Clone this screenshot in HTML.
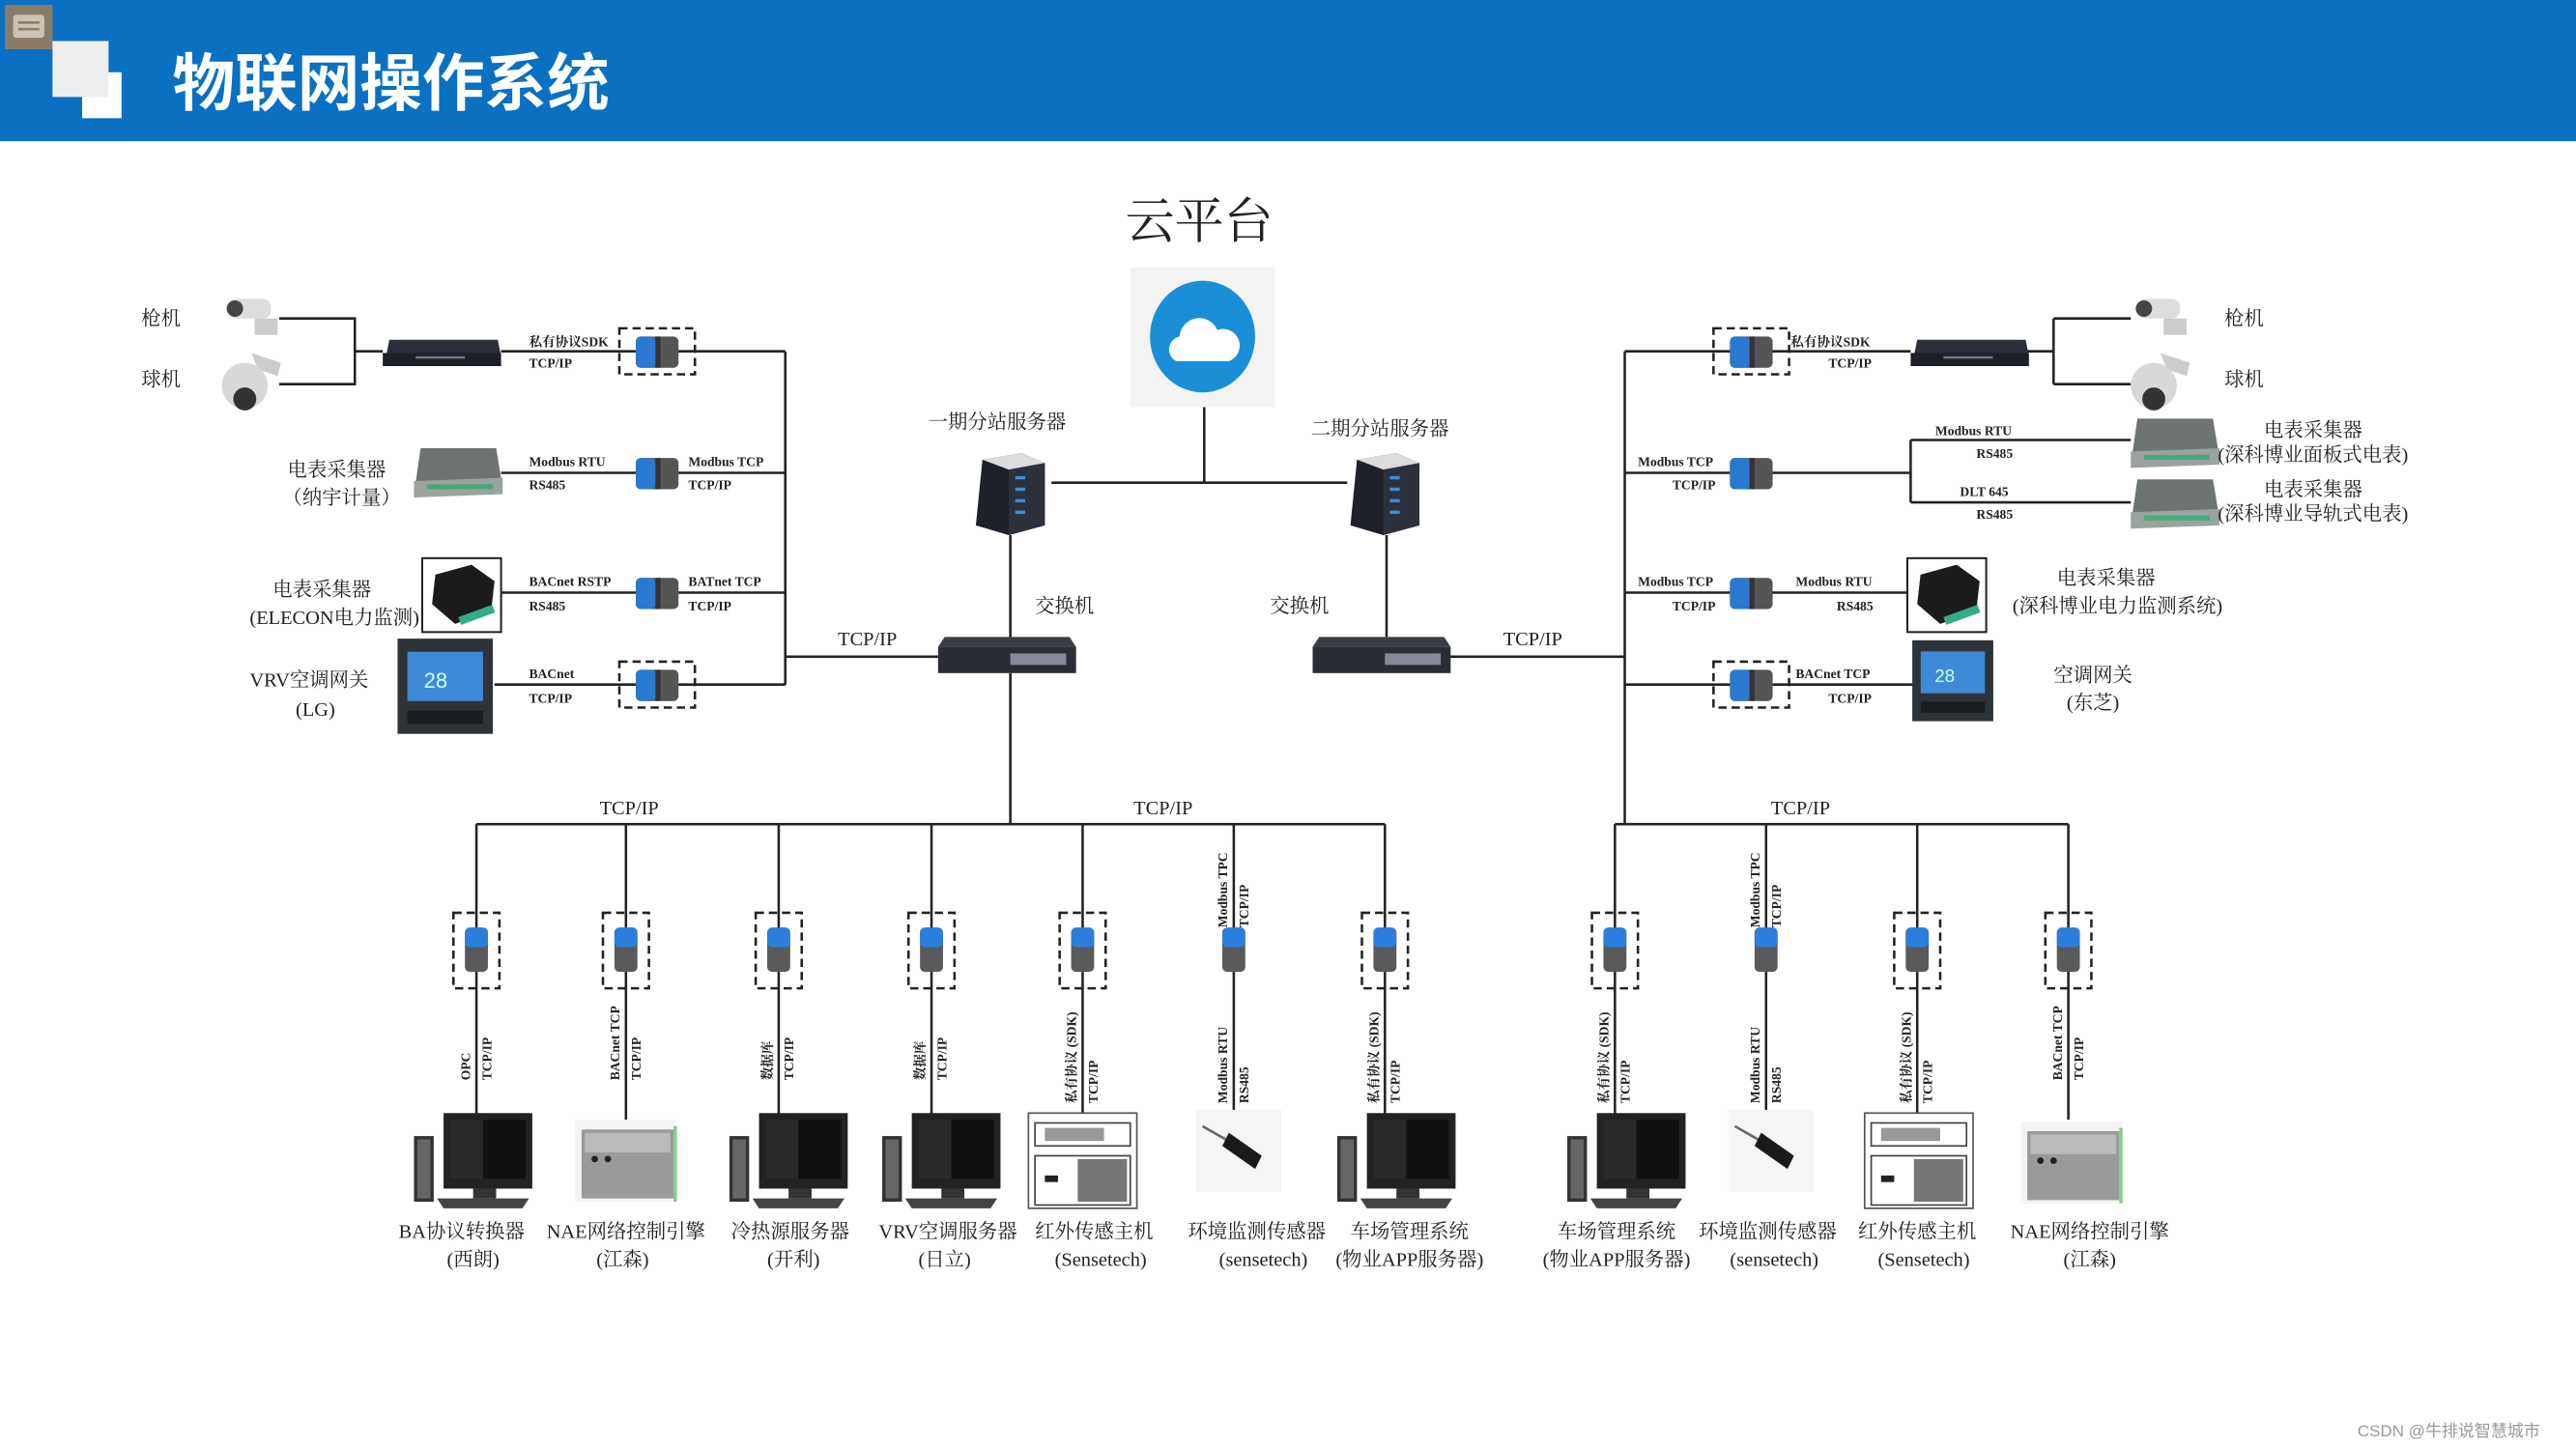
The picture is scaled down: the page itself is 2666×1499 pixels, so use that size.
<!DOCTYPE html>
<html><head><meta charset="utf-8">
<style>
html,body{margin:0;padding:0;background:#fff;}
svg{display:block;}
text{font-family:"Liberation Serif","Noto Serif CJK SC","Noto Sans CJK SC",serif;fill:#222;}
.s{font-size:8px;font-weight:bold;}
.m{font-size:12px;}
.b{font-size:12px;}
</style></head>
<body>
<svg width="2666" height="1499" viewBox="0 0 1568 882" preserveAspectRatio="none" xmlns="http://www.w3.org/2000/svg">
<defs>
 <g id="gw"><rect x="0" y="0" width="26" height="19" rx="3" fill="#555"/><rect x="0" y="0" width="12" height="19" rx="3" fill="#2a78d0"/><rect x="12" y="0" width="3" height="19" fill="#333"/></g>
 <g id="gwv"><rect x="0" y="0" width="14" height="27" rx="3" fill="#5a5a5a"/><rect x="0" y="0" width="14" height="12" rx="3" fill="#2a7fdc"/></g>
 <g id="pc"><rect x="0" y="14" width="12" height="40" fill="#333"/><rect x="2" y="16" width="8" height="36" fill="#666"/><rect x="18" y="0" width="54" height="46" fill="#222"/><rect x="22" y="4" width="46" height="36" fill="#111"/><rect x="22" y="4" width="20" height="36" fill="#3a3a3a" opacity=".6"/><rect x="36" y="46" width="14" height="6" fill="#333"/><path d="M14 52 L70 52 L66 58 L18 58 Z" fill="#444"/></g>
 <g id="nae"><rect x="0" y="0" width="62" height="50" fill="#f4f4f4"/><rect x="4" y="6" width="56" height="42" fill="#9a9a9a"/><rect x="6" y="8" width="52" height="12" fill="#bbb"/><circle cx="12" cy="24" r="2" fill="#222"/><circle cx="20" cy="24" r="2" fill="#222"/><rect x="60" y="4" width="2" height="46" fill="#8c8"/></g>
 <g id="ir"><rect x="0" y="0" width="66" height="58" fill="#fff" stroke="#555"/><rect x="4" y="6" width="58" height="14" fill="#fff" stroke="#444"/><rect x="10" y="9" width="36" height="8" fill="#999"/><rect x="4" y="26" width="58" height="30" fill="#fff" stroke="#444"/><rect x="30" y="28" width="30" height="26" fill="#777"/><rect x="10" y="38" width="8" height="4" fill="#222"/></g>
 <g id="sensor"><rect x="0" y="0" width="52" height="50" fill="#f5f5f5"/><path d="M20 14 L40 28 L36 36 L16 22 Z" fill="#1a1a1a"/><path d="M4 10 L18 18" stroke="#666" stroke-width="1.5"/></g>
 <g id="dvr"><path d="M4 0 L70 0 L72 10 L2 10 Z" fill="#2b2f3a"/><rect x="0" y="8" width="72" height="8" fill="#1c1f28"/><rect x="20" y="10" width="30" height="1.5" fill="#778"/></g>
 <g id="meter"><path d="M4 0 L50 0 L54 24 L0 28 Z" fill="#6e7470"/><path d="M0 20 L54 18 L54 28 L0 30 Z" fill="#9aa39e"/><rect x="8" y="22" width="40" height="3" fill="#4a7"/></g>
 <g id="blk"><rect x="0" y="0" width="48" height="45" fill="#fff" stroke="#222" stroke-width="1.2"/><path d="M8 10 L30 4 L44 14 L42 32 L20 40 L6 28 Z" fill="#1b1b1b"/><rect x="22" y="32" width="22" height="5" fill="#3a8" transform="rotate(-20 33 34)"/></g>
 <g id="therm"><rect x="0" y="0" width="58" height="58" fill="#2e3338"/><rect x="6" y="8" width="46" height="30" fill="#3e8ad6"/><text x="16" y="30" style="font-size:13px;fill:#cfe;font-family:'Liberation Sans',sans-serif">28</text><rect x="6" y="44" width="46" height="8" fill="#1a1d20"/></g>
 <g id="srv"><path d="M6 4 L30 0 L44 6 L44 44 L22 50 L2 44 Z" fill="#1e2129"/><path d="M22 10 L44 6 L44 44 L22 50 Z" fill="#2d313b"/><g fill="#3c8de0"><rect x="26" y="14" width="6" height="2"/><rect x="26" y="21" width="6" height="2"/><rect x="26" y="28" width="6" height="2"/><rect x="26" y="35" width="6" height="2"/></g><path d="M6 4 L30 0 L44 6 L22 10 Z" fill="#ddd"/></g>
 <g id="sw"><path d="M4 0 L80 0 L84 6 L0 6 Z" fill="#3a3d44"/><rect x="0" y="6" width="84" height="16" fill="#2a2d33"/><rect x="44" y="10" width="34" height="7" fill="#889"/></g>
 <g id="gun"><rect x="4" y="2" width="26" height="12" rx="5" fill="#ddd"/><circle cx="8" cy="8" r="5" fill="#444"/><rect x="20" y="14" width="14" height="10" fill="#ccc"/></g>
 <g id="dome"><path d="M18 0 L36 6 L34 14 L22 10 Z" fill="#ccc"/><circle cx="14" cy="20" r="14" fill="#d8d8d8"/><circle cx="14" cy="28" r="7" fill="#333"/></g>
</defs>

<!-- header -->
<rect x="0" y="0" width="1568" height="86" fill="#0a70c2"/>
<rect x="3" y="3" width="29" height="27" fill="#8b7b66"/>
<rect x="8" y="9" width="19" height="14" rx="2" fill="#cbc3b6"/>
<rect x="11" y="13" width="13" height="1.5" fill="#8b7b66"/><rect x="11" y="17" width="13" height="1.5" fill="#8b7b66"/>
<rect x="32" y="25" width="34" height="34" fill="#eeeeee"/>
<rect x="50" y="44" width="24" height="28" fill="#ffffff"/>
<rect x="32" y="25" width="34" height="34" fill="#eeeeee"/>
<text x="105" y="64" style="font-family:'Liberation Sans','Noto Sans CJK SC',sans-serif;font-size:38px;font-weight:bold;fill:#fff">物联网操作系统</text>

<!-- cloud -->
<text x="685" y="145" style="font-size:30px;fill:#222;font-family:'Liberation Serif','Noto Serif CJK SC',serif">云平台</text>
<rect x="688" y="163" width="88" height="85" fill="#f3f3f3"/>
<ellipse cx="732" cy="205" rx="32" ry="34" fill="#1a8fd8"/>
<path d="M716 220 a8 8 0 0 1 2-15 a12 12 0 0 1 23-4 a9 9 0 0 1 7 19 Z" fill="#fff"/>

<g stroke="#222" stroke-width="1.5" fill="none">
 <path d="M733 248 V294 M640 294 H820 M615 326 V390 M844 326 V388"/>
 <path d="M478 400 H571 M882 400 H989"/>
 <path d="M478 214 V417 M305 214 H478 M305 288 H478 M305 361 H478 M301 417 H478"/>
 <path d="M170 194 H216 V234 H170 M216 214 H233"/>
 <path d="M989 214 V502 M989 214 H1163 M989 288 H1163 M1163 268 V306 M1163 268 H1297 M1163 306 H1297 M989 361 H1161 M989 417 H1166"/>
 <path d="M1233 214 H1250 M1250 194 V234 M1250 194 H1297 M1250 234 H1297"/>
 <path d="M615 410 V502 M290 502 H843 M983 502 H1259"/>
 <path d="M290 502 V680 M381 502 V682 M474 502 V680 M567 502 V680 M659 502 V680 M751 502 V680 M843 502 V680 M983 502 V680 M1075 502 V680 M1167 502 V680 M1259 502 V682"/>
</g>

<!-- servers / switches -->
<use href="#srv" x="592" y="276"/><use href="#srv" x="820" y="276"/>
<use href="#sw" x="571" y="388"/><use href="#sw" x="799" y="388"/>
<text x="565" y="261" class="m">一期分站服务器</text>
<text x="798" y="265" class="m">二期分站服务器</text>
<text x="630" y="373" class="m">交换机</text>
<text x="773" y="373" class="m">交换机</text>
<text x="510" y="393" class="m">TCP/IP</text>
<text x="915" y="393" class="m">TCP/IP</text>
<text x="365" y="496" class="m">TCP/IP</text>
<text x="690" y="496" class="m">TCP/IP</text>
<text x="1078" y="496" class="m">TCP/IP</text>

<!-- left top -->
<text x="86" y="198" class="m">枪机</text><text x="86" y="235" class="m">球机</text>
<use href="#gun" x="135" y="180"/><use href="#dome" x="135" y="215"/>
<use href="#dvr" x="233" y="207"/>
<text x="322" y="211" class="s">私有协议SDK</text><text x="322" y="224" class="s">TCP/IP</text>
<rect x="377" y="200" width="46" height="28" fill="none" stroke="#222" stroke-width="1.5" stroke-dasharray="5,3"/>
<use href="#gw" x="387" y="205"/>

<text x="175" y="290" class="m">电表采集器</text><text x="172" y="307" class="m">（纳宇计量）</text>
<use href="#meter" x="252" y="273"/>
<text x="322" y="284" class="s">Modbus RTU</text><text x="322" y="298" class="s">RS485</text>
<use href="#gw" x="387" y="279"/>
<text x="419" y="284" class="s">Modbus TCP</text><text x="419" y="298" class="s">TCP/IP</text>

<text x="166" y="363" class="m">电表采集器</text><text x="152" y="380" class="m">(ELECON电力监测)</text>
<use href="#blk" x="257" y="340"/>
<text x="322" y="357" class="s">BACnet RSTP</text><text x="322" y="372" class="s">RS485</text>
<use href="#gw" x="387" y="352"/>
<text x="419" y="357" class="s">BATnet TCP</text><text x="419" y="372" class="s">TCP/IP</text>

<text x="152" y="418" class="m">VRV空调网关</text><text x="180" y="436" class="m">(LG)</text>
<use href="#therm" x="242" y="389"/>
<text x="322" y="413" class="s">BACnet</text><text x="322" y="428" class="s">TCP/IP</text>
<rect x="377" y="403" width="46" height="28" fill="none" stroke="#222" stroke-width="1.5" stroke-dasharray="5,3"/>
<use href="#gw" x="387" y="408"/>

<!-- right top -->
<rect x="1043" y="200" width="46" height="28" fill="none" stroke="#222" stroke-width="1.5" stroke-dasharray="5,3"/>
<use href="#gw" x="1053" y="205"/>
<text x="1090" y="211" class="s">私有协议SDK</text><text x="1113" y="224" class="s">TCP/IP</text>
<use href="#dvr" x="1163" y="207"/>
<use href="#gun" x="1297" y="180"/><use href="#dome" x="1297" y="215"/>
<text x="1354" y="198" class="m">枪机</text><text x="1354" y="235" class="m">球机</text>

<text x="997" y="284" class="s">Modbus TCP</text><text x="1018" y="298" class="s">TCP/IP</text>
<use href="#gw" x="1053" y="279"/>
<text x="1178" y="265" class="s">Modbus RTU</text><text x="1203" y="279" class="s">RS485</text>
<text x="1193" y="302" class="s">DLT 645</text><text x="1203" y="316" class="s">RS485</text>
<use href="#meter" x="1297" y="255"/><use href="#meter" x="1297" y="292"/>
<text x="1378" y="266" class="m">电表采集器</text><text x="1350" y="281" class="m">(深科博业面板式电表)</text>
<text x="1378" y="302" class="m">电表采集器</text><text x="1350" y="317" class="m">(深科博业导轨式电表)</text>

<text x="997" y="357" class="s">Modbus TCP</text><text x="1018" y="372" class="s">TCP/IP</text>
<use href="#gw" x="1053" y="352"/>
<text x="1093" y="357" class="s">Modbus RTU</text><text x="1118" y="372" class="s">RS485</text>
<use href="#blk" x="1161" y="340"/>
<text x="1252" y="356" class="m">电表采集器</text><text x="1225" y="373" class="m">(深科博业电力监测系统)</text>

<rect x="1043" y="403" width="46" height="28" fill="none" stroke="#222" stroke-width="1.5" stroke-dasharray="5,3"/>
<use href="#gw" x="1053" y="408"/>
<text x="1093" y="413" class="s">BACnet TCP</text><text x="1113" y="428" class="s">TCP/IP</text>
<use href="#therm" x="1164" y="390" transform="translate(1164 390) scale(0.85) translate(-1164 -390)"/>
<text x="1250" y="415" class="m">空调网关</text><text x="1258" y="432" class="m">(东芝)</text>

<!-- bottom gateways -->
<g fill="none" stroke="#222" stroke-width="1.5" stroke-dasharray="5,3">
 <rect x="276" y="556" width="28" height="46"/><rect x="367" y="556" width="28" height="46"/>
 <rect x="460" y="556" width="28" height="46"/><rect x="553" y="556" width="28" height="46"/>
 <rect x="645" y="556" width="28" height="46"/><rect x="829" y="556" width="28" height="46"/>
 <rect x="969" y="556" width="28" height="46"/><rect x="1153" y="556" width="28" height="46"/>
 <rect x="1245" y="556" width="28" height="46"/>
</g>
<use href="#gwv" x="283" y="565"/><use href="#gwv" x="374" y="565"/><use href="#gwv" x="467" y="565"/>
<use href="#gwv" x="560" y="565"/><use href="#gwv" x="652" y="565"/><use href="#gwv" x="744" y="565"/>
<use href="#gwv" x="836" y="565"/><use href="#gwv" x="976" y="565"/><use href="#gwv" x="1068" y="565"/>
<use href="#gwv" x="1160" y="565"/><use href="#gwv" x="1252" y="565"/>

<!-- rotated labels -->
<g class="s" style="font-size:8px;font-weight:bold">
 <text transform="translate(286 658) rotate(-90)">OPC</text><text transform="translate(299 658) rotate(-90)">TCP/IP</text>
 <text transform="translate(377 658) rotate(-90)">BACnet TCP</text><text transform="translate(390 658) rotate(-90)">TCP/IP</text>
 <text transform="translate(470 658) rotate(-90)">数据库</text><text transform="translate(483 658) rotate(-90)">TCP/IP</text>
 <text transform="translate(563 658) rotate(-90)">数据库</text><text transform="translate(576 658) rotate(-90)">TCP/IP</text>
 <text transform="translate(655 672) rotate(-90)">私有协议 (SDK)</text><text transform="translate(668 672) rotate(-90)">TCP/IP</text>
 <text transform="translate(747 672) rotate(-90)">Modbus RTU</text><text transform="translate(760 672) rotate(-90)">RS485</text>
 <text transform="translate(747 565) rotate(-90)">Modbus TPC</text><text transform="translate(760 565) rotate(-90)">TCP/IP</text>
 <text transform="translate(839 672) rotate(-90)">私有协议 (SDK)</text><text transform="translate(852 672) rotate(-90)">TCP/IP</text>
 <text transform="translate(979 672) rotate(-90)">私有协议 (SDK)</text><text transform="translate(992 672) rotate(-90)">TCP/IP</text>
 <text transform="translate(1071 672) rotate(-90)">Modbus RTU</text><text transform="translate(1084 672) rotate(-90)">RS485</text>
 <text transform="translate(1071 565) rotate(-90)">Modbus TPC</text><text transform="translate(1084 565) rotate(-90)">TCP/IP</text>
 <text transform="translate(1163 672) rotate(-90)">私有协议 (SDK)</text><text transform="translate(1176 672) rotate(-90)">TCP/IP</text>
 <text transform="translate(1255 658) rotate(-90)">BACnet TCP</text><text transform="translate(1268 658) rotate(-90)">TCP/IP</text>
</g>

<!-- bottom devices -->
<use href="#pc" x="252" y="678"/><use href="#nae" x="350" y="682"/><use href="#pc" x="444" y="678"/>
<use href="#pc" x="537" y="678"/><use href="#ir" x="626" y="678"/><use href="#sensor" x="728" y="676"/>
<use href="#pc" x="814" y="678"/><use href="#pc" x="954" y="678"/><use href="#sensor" x="1052" y="676"/>
<use href="#ir" x="1135" y="678"/><use href="#nae" x="1230" y="683"/>

<g class="b" text-anchor="middle">
 <text x="281" y="754">BA协议转换器</text><text x="288" y="771">(西朗)</text>
 <text x="381" y="754">NAE网络控制引擎</text><text x="379" y="771">(江森)</text>
 <text x="481" y="754">冷热源服务器</text><text x="483" y="771">(开利)</text>
 <text x="577" y="754">VRV空调服务器</text><text x="575" y="771">(日立)</text>
 <text x="666" y="754">红外传感主机</text><text x="670" y="771">(Sensetech)</text>
 <text x="765" y="754">环境监测传感器</text><text x="769" y="771">(sensetech)</text>
 <text x="858" y="754">车场管理系统</text><text x="858" y="771">(物业APP服务器)</text>
 <text x="984" y="754">车场管理系统</text><text x="984" y="771">(物业APP服务器)</text>
 <text x="1076" y="754">环境监测传感器</text><text x="1080" y="771">(sensetech)</text>
 <text x="1167" y="754">红外传感主机</text><text x="1171" y="771">(Sensetech)</text>
 <text x="1272" y="754">NAE网络控制引擎</text><text x="1272" y="771">(江森)</text>
</g>

<text x="1435" y="875" style="font-family:'Liberation Sans','Noto Sans CJK SC',sans-serif;font-size:10px;fill:#999">CSDN @牛排说智慧城市</text>
</svg>
</body></html>
